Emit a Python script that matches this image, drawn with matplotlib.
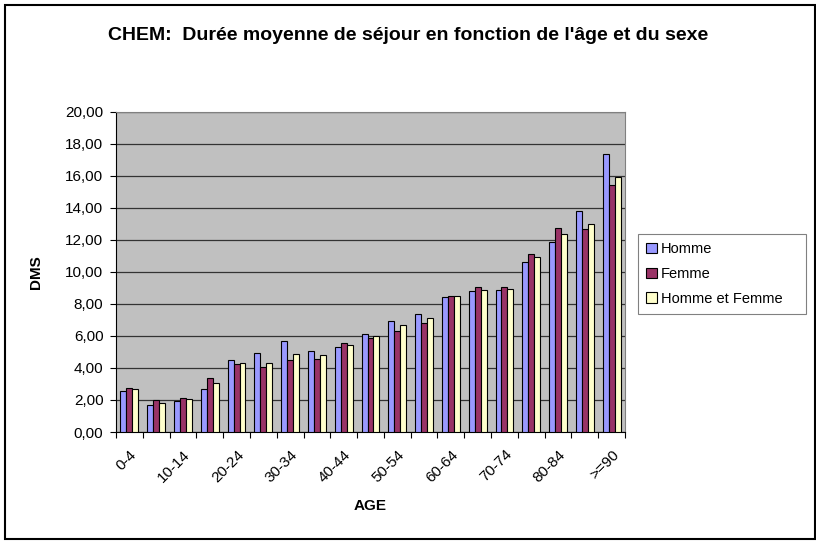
import numpy as np
import matplotlib.pyplot as plt
from matplotlib.patches import Rectangle
from matplotlib.ticker import FuncFormatter, FixedLocator

plt.rcParams['font.family'] = ['Liberation Sans', 'DejaVu Sans']

ages = ['0-4', '5-9', '10-14', '15-19', '20-24', '25-29', '30-34', '35-39',
        '40-44', '45-49', '50-54', '55-59', '60-64', '65-69', '70-74',
        '75-79', '80-84', '85-89', '>=90']
homme = [2.58, 1.66, 1.96, 2.66, 4.47, 4.91, 5.70, 5.08, 5.30, 6.14,
         6.93, 7.34, 8.43, 8.78, 8.86, 10.61, 11.84, 13.79, 17.33]
femme = [2.77, 1.98, 2.14, 3.35, 4.22, 4.04, 4.47, 4.54, 5.55, 5.89,
         6.30, 6.78, 8.47, 9.03, 9.03, 11.09, 12.75, 12.69, 15.39]
homme_femme = [2.66, 1.79, 2.04, 3.06, 4.31, 4.31, 4.87, 4.78, 5.41, 6.01,
               6.66, 7.09, 8.47, 8.88, 8.95, 10.90, 12.38, 13.00, 15.93]

series = [('Homme', homme, '#9999FF'),
          ('Femme', femme, '#993366'),
          ('Homme et Femme', homme_femme, '#FFFFCC')]

fig = plt.figure(figsize=(8.16, 5.41), dpi=100)
ax = fig.add_axes([116 / 816, 1 - 432 / 541, 509 / 816, 320.5 / 541])

x = np.arange(len(ages))
w = 0.222
for i, (name, vals, col) in enumerate(series):
    ax.bar(x + (i - 1) * w, vals, width=w, color=col, edgecolor='black',
           linewidth=0.8, label=name, zorder=3)

ax.set_facecolor('#C0C0C0')
ax.set_xlim(-0.5, len(ages) - 0.5)
ax.set_ylim(0, 20)
ax.set_yticks(np.arange(0, 21, 2))
ax.yaxis.set_major_formatter(FuncFormatter(lambda v, p: f'{v:.2f}'.replace('.', ',')))
ax.grid(axis='y', color='#333333', linewidth=0.9, zorder=1)
ax.set_axisbelow(True)

# ticks at category boundaries, labels every other category
ax.xaxis.set_major_locator(FixedLocator(np.arange(-0.5, len(ages), 1)))
ax.xaxis.set_major_formatter(FuncFormatter(lambda v, p: ''))
ax.set_xticks(x[::2], minor=True)
ax.set_xticklabels(ages[::2], minor=True, rotation=45, ha='right',
                   rotation_mode='anchor', fontsize=11)
ax.tick_params(axis='x', which='minor', length=0, pad=11)
ax.tick_params(axis='x', which='major', length=4, width=0.8)
ax.tick_params(axis='y', length=4, width=0.8, labelsize=11, pad=5)

for s in ['top', 'right']:
    ax.spines[s].set_color('#808080')
for s in ['left', 'bottom']:
    ax.spines[s].set_color('black')

ax.set_xlabel('AGE', fontsize=11, fontweight='bold', labelpad=10)
ax.set_ylabel('DMS', fontsize=11, fontweight='bold', labelpad=16)

fig.text(0.5, 1 - 36 / 541, "CHEM:  Durée moyenne de séjour en fonction de l'âge et du sexe",
         ha='center', va='center', fontsize=14, fontweight='bold')

leg = ax.legend(loc='upper left', bbox_to_anchor=(638 / 816, 1 - 309 / 541, 168 / 816, 75 / 541),
                bbox_transform=fig.transFigure, mode='expand', fancybox=False,
                framealpha=1, edgecolor='#808080', fontsize=10.5,
                handlelength=0.75, handleheight=0.75, handletextpad=0.25,
                borderpad=0.55, borderaxespad=0, labelspacing=0.75)
leg.get_frame().set_linewidth(0.8)

fig.patches.append(Rectangle((5 / 816, 2 / 541), 810 / 816, 534 / 541,
                             transform=fig.transFigure, fill=False,
                             edgecolor='black', linewidth=1.5))

fig.savefig('out.png', dpi=100)
